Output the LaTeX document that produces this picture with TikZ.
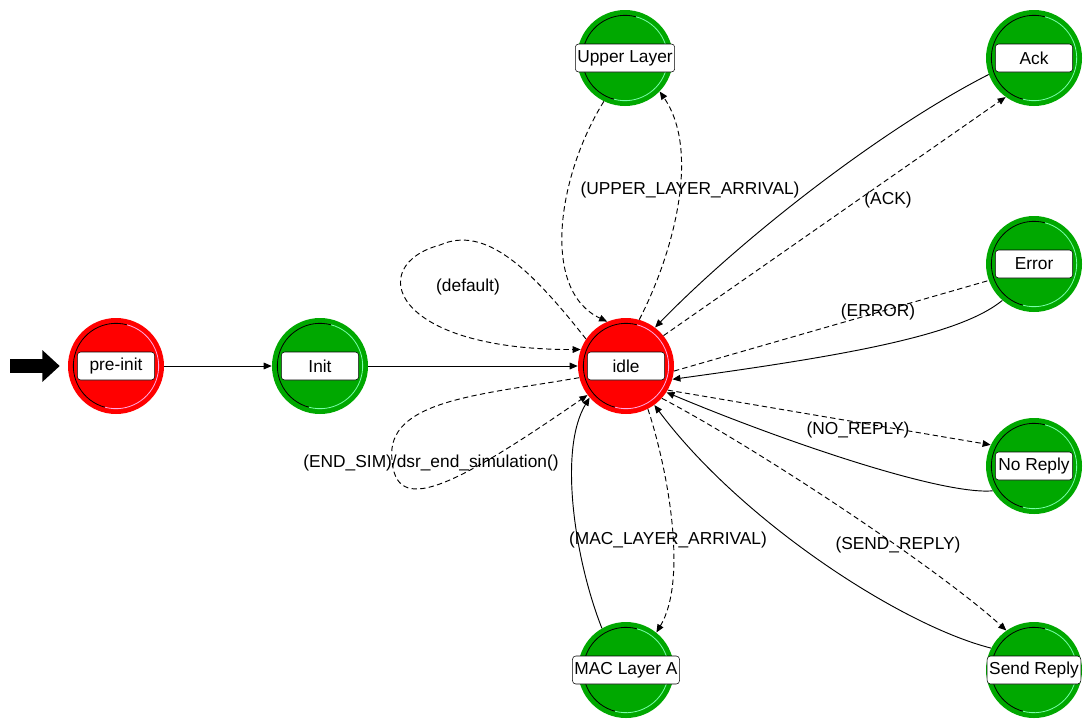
\documentclass[tikz,border=0pt]{standalone}
\usepackage{fontspec}
\setsansfont{Liberation Sans}
\usetikzlibrary{arrows.meta}
\definecolor{fsmred}{RGB}{255,0,0}
\definecolor{fsmgreen}{RGB}{0,168,0}
\definecolor{ringred}{RGB}{255,170,230}
\definecolor{ringgreen}{RGB}{120,255,170}
\tikzset{
  fsm/.style     ={circle, minimum size=72pt, inner sep=0pt,
                   path picture={
                     \draw[black, line width=0.6pt] (path picture bounding box.center)
                       ++(75:32pt) arc[start angle=75, end angle=255, radius=32pt];
                     \draw[#1, line width=0.6pt] (path picture bounding box.center)
                       ++(255:32pt) arc[start angle=255, end angle=435, radius=32pt];}},
  unforced/.style={fsm=ringred, fill=fsmred},
  forced/.style  ={fsm=ringgreen, fill=fsmgreen},
  tag/.style     ={draw, fill=white, rounded corners=2.5pt, minimum width=58pt,
                   minimum height=21pt, inner sep=1.5pt,
                   font=\sffamily\fontsize{13}{15}\selectfont},
  cond/.style    ={font=\sffamily\fontsize{13}{15}\selectfont, inner sep=0pt},
  tr/.style      ={-{Triangle[length=6pt,width=5pt]}, line width=0.7pt},
  ctr/.style     ={tr, dash pattern=on 4pt off 2.5pt},
  startarrow/.style={-{Triangle[length=13pt,width=23pt]}, line width=11pt, shorten >=6pt},
}

\begin{document}
\begin{tikzpicture}[x=0.75pt, y=0.75pt]
  \fill[white] (0,0) rectangle (1087,-718);
  \useasboundingbox (0,0) rectangle (1087,-718);

  % states
  \node[unforced] (pre)       at (116,-366)  {};
  \node[forced]   (init)      at (320,-366)  {};
  \node[unforced] (idle)      at (626,-366)  {};
  \node[forced]   (upper)     at (625,-58)   {};
  \node[forced]   (ack)       at (1034,-58)  {};
  \node[forced]   (error)     at (1034,-264) {};
  \node[forced]   (noreply)   at (1034,-466) {};
  \node[forced]   (sendreply) at (1034,-670) {};
  \node[forced]   (mac)       at (626,-670)  {};

  \node[tag] (pretag)       at (pre)       {pre-init};
  \node[tag] (inittag)      at (init)      {Init};
  \node[tag] (idletag)      at (idle)      {idle};
  \node[tag] (uppertag)     at (upper)     {Upper Layer};
  \node[tag] (acktag)       at (ack)       {Ack};
  \node[tag] (errortag)     at (error)     {Error};
  \node[tag] (noreplytag)   at (noreply)   {No Reply};
  \node[tag] (sendreplytag) at (sendreply) {Send Reply};
  \node[tag] (mactag)       at (mac)       {MAC Layer A};

  % initial state marker
  \coordinate (entry) at (10,-366);
  \draw[startarrow] (entry) -- (pre);

  % transitions
  \draw[tr]  (pre) -- (init);
  \draw[tr]  (init) -- (idle);
  \draw[ctr] (upper.244) .. controls (558,-175) and (540,-290) .. (idle.113);
  \draw[ctr] (idle.74) .. controls (675,-250) and (700,-150) .. (upper.316);
  \draw[ctr] (idle.146) .. controls (530,-268) and (485,-225) .. (440,-245)
             .. controls (365,-265) and (390,-350) .. (idle.160);
  \draw[ctr] (idle.194) .. controls (480,-395) and (385,-400) .. (392,-460)
             .. controls (396,-515) and (450,-490) .. (idle.217);
  \draw[tr]  (mac.120) .. controls (575,-560) and (558,-450) .. (idle.221);
  \draw[ctr] (idle.297) .. controls (668,-470) and (688,-580) .. (mac.51);
  \draw[tr]  (ack.200) .. controls (880,-130) and (740,-240) .. (idle.53);
  \draw[ctr] (idle.39) -- (ack.234);
  \draw[ctr, -] (idle.354) -- (error.200);
  \draw[tr]  (error.229) .. controls (960,-335) and (850,-355) .. (idle.344);
  \draw[ctr] (idle.330) -- (noreply.154);
  \draw[tr]  (noreply.211) .. controls (940,-495) and (780,-440) .. (idle.327);
  \draw[ctr] (idle.318) .. controls (760,-450) and (940,-570) .. (sendreply.125);
  \draw[tr]  (sendreply.153) .. controls (900,-625) and (740,-520) .. (idle.306);

  % conditions
  \node[cond] (upperlbl) at (690,-190) {(UPPER\_LAYER\_ARRIVAL)};
  \node[cond] (acklbl)   at (888,-200) {(ACK)};
  \node[cond] (deflbl)   at (468,-287) {(default)};
  \node[cond] (errlbl)   at (878,-312) {(ERROR)};
  \node[cond] (norlbl)   at (858,-430) {(NO\_REPLY)};
  \node[cond] (simlbl)   at (431,-463) {(END\_SIM)/dsr\_end\_simulation()};
  \node[cond] (maclbl)   at (668,-540) {(MAC\_LAYER\_ARRIVAL)};
  \node[cond] (sndlbl)   at (898,-545) {(SEND\_REPLY)};
\end{tikzpicture}
\end{document}
